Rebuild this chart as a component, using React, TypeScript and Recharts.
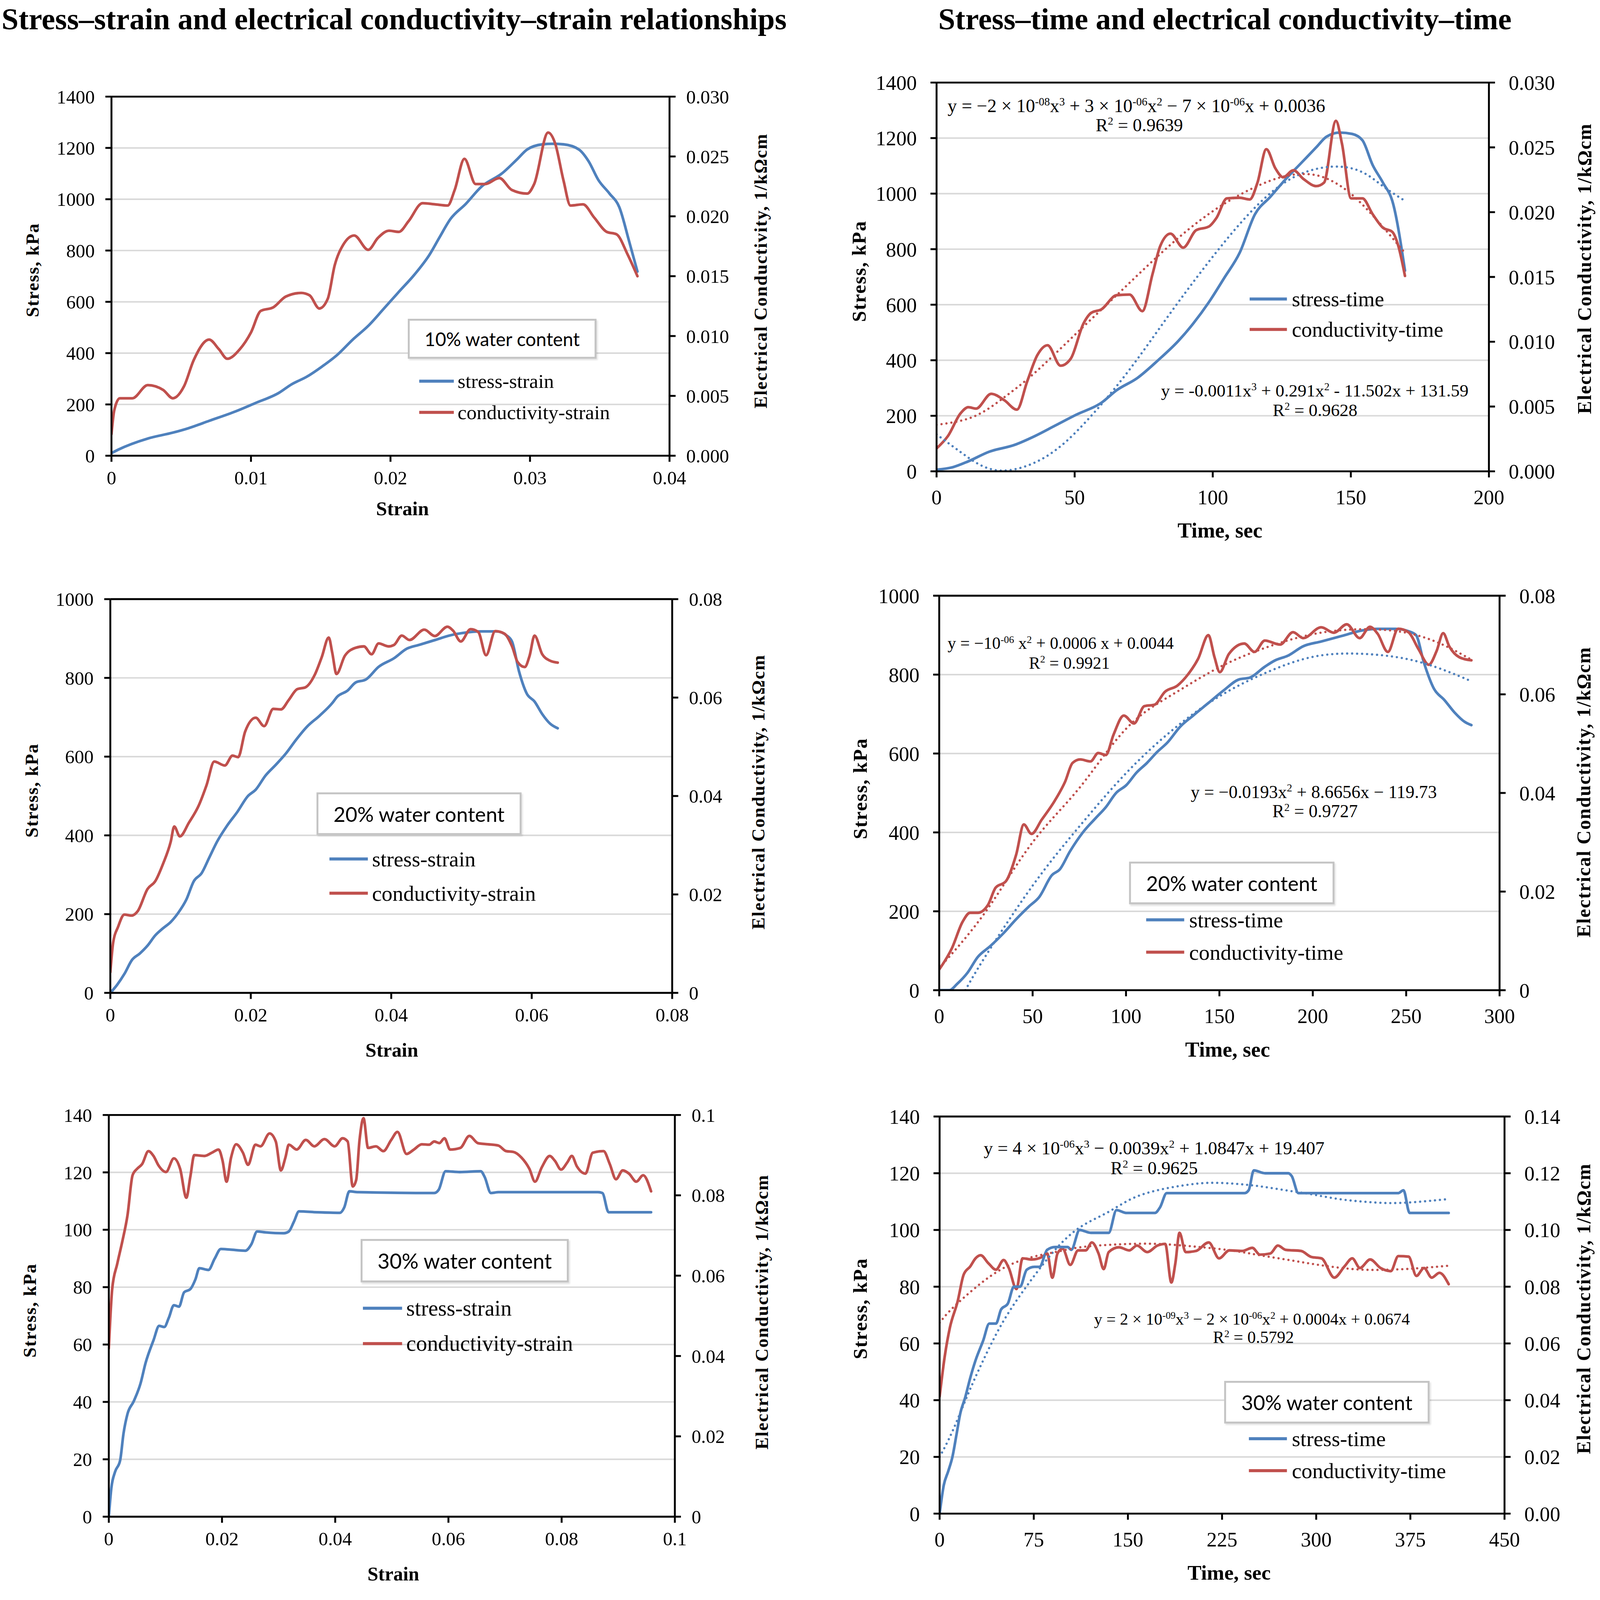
import React from 'react';
import { LineChart, Line, XAxis, YAxis, CartesianGrid, ReferenceLine } from 'recharts';

const BLUE = '#4f81bd';
const RED = '#c0504d';

// ---------- Chart 1: 10% water content, vs strain ----------
const c1StressX = [0, 0.0005, 0.0026, 0.0044, 0.0055, 0.007, 0.0089, 0.0103, 0.012, 0.0129, 0.014, 0.0151, 0.0162, 0.0173, 0.0184, 0.0195, 0.0206, 0.0217, 0.0228, 0.0235, 0.0243, 0.0254, 0.0265, 0.028, 0.0291, 0.0298, 0.0309, 0.0316, 0.0324, 0.0335, 0.0342, 0.0349, 0.0357, 0.0364, 0.0371, 0.0377];
const c1StressY = [10, 24, 67, 90, 107, 136, 173, 205, 245, 278, 308, 348, 394, 453, 506, 572, 639, 705, 784, 850, 923, 982, 1048, 1101, 1157, 1194, 1214, 1216, 1214, 1194, 1148, 1075, 1022, 969, 837, 718];
const c1CondX = [0, 0.0002, 0.0006, 0.0015, 0.0026, 0.0037, 0.0044, 0.0052, 0.0059, 0.007, 0.0077, 0.0083, 0.0092, 0.01, 0.0107, 0.0116, 0.0125, 0.0136, 0.0142, 0.0149, 0.0155, 0.016, 0.0166, 0.0174, 0.0184, 0.0191, 0.0199, 0.0206, 0.0213, 0.0223, 0.0232, 0.0241, 0.0246, 0.0253, 0.0261, 0.0268, 0.0278, 0.0287, 0.0298, 0.0303, 0.0313, 0.0318, 0.0324, 0.0329, 0.0338, 0.0346, 0.0355, 0.0362, 0.037, 0.0377];
const c1CondY = [0.0018, 0.0038, 0.0048, 0.0048, 0.0059, 0.0055, 0.0048, 0.0058, 0.008, 0.0097, 0.0089, 0.0081, 0.0089, 0.0103, 0.0121, 0.0124, 0.0133, 0.0136, 0.0134, 0.0123, 0.0131, 0.0159, 0.0176, 0.0184, 0.0172, 0.0182, 0.0188, 0.0187, 0.0196, 0.0211, 0.021, 0.0209, 0.0222, 0.0248, 0.0227, 0.0227, 0.0232, 0.0222, 0.0219, 0.0227, 0.027, 0.0261, 0.023, 0.0209, 0.021, 0.0199, 0.0187, 0.0185, 0.0168, 0.015];

// ---------- Chart 2: 10% water content, vs time ----------
const c2StressX = [0, 5.9, 11.5, 18.9, 28.2, 35.6, 43, 50.4, 59.7, 65.2, 72.7, 80.1, 87.5, 93, 98.6, 104.2, 109.7, 115.3, 120.9, 126.4, 132, 137.5, 141.2, 145.9, 150.5, 154.2, 157.9, 161.6, 165.3, 169.6];
const c2StressY = [6, 15, 36, 70, 95, 127, 165, 203, 247, 292, 336, 399, 469, 533, 609, 697, 786, 926, 989, 1052, 1110, 1167, 1205, 1220, 1215, 1192, 1103, 1040, 964, 723];
const c2CondX = [0, 4.1, 8.7, 11.5, 14.3, 19.8, 24.5, 29.1, 32.8, 36.5, 40.2, 44.9, 48.6, 53.2, 56, 59.7, 65.2, 69.9, 74.5, 78.2, 81, 84.7, 89.3, 94, 98.6, 101.4, 105.1, 109.7, 113.4, 116.2, 119.4, 122.7, 125.5, 129.2, 132.9, 137.5, 140.3, 144.6, 146.8, 150.1, 154.2, 157.9, 161.6, 165, 167.2, 169.6];
const c2CondY = [0.00177, 0.00272, 0.00448, 0.00495, 0.00484, 0.00598, 0.00549, 0.00476, 0.00693, 0.00897, 0.00973, 0.00815, 0.0087, 0.01141, 0.01223, 0.0125, 0.01359, 0.01364, 0.01236, 0.01522, 0.01739, 0.01834, 0.01726, 0.01861, 0.01889, 0.01957, 0.02106, 0.02111, 0.02098, 0.02228, 0.02486, 0.02337, 0.02269, 0.02323, 0.02255, 0.02201, 0.02228, 0.02704, 0.02527, 0.02106, 0.02106, 0.01984, 0.0188, 0.01848, 0.01739, 0.01508];
const c2StressTrendX = [0, 10, 22.6, 39.3, 54, 69, 83.8, 98.6, 113, 128, 143, 154, 161.6, 169.6];
const c2StressTrendY = [133, 60, 3, 51, 178, 355, 558, 755, 926, 1052, 1097, 1078, 1027, 974];
const c2CondTrendX = [0, 13.3, 24.5, 35.6, 50.4, 65.2, 80, 95, 109.7, 124.6, 135.7, 143, 150.5, 159.8, 169.6];
const c2CondTrendY = [0.00359, 0.00421, 0.00571, 0.00761, 0.0106, 0.01359, 0.01658, 0.0193, 0.02133, 0.02269, 0.02291, 0.02242, 0.02133, 0.0193, 0.01685];

// ---------- Chart 3: 20% water content, vs strain ----------
const c3StressX = [0, 0.00095, 0.002, 0.0031, 0.0042, 0.0053, 0.0064, 0.0075, 0.0086, 0.0097, 0.0108, 0.0119, 0.013, 0.0141, 0.0152, 0.0166, 0.0181, 0.0196, 0.0207, 0.0221, 0.0236, 0.025, 0.0265, 0.028, 0.0298, 0.0316, 0.0323, 0.0338, 0.0349, 0.0364, 0.0382, 0.0404, 0.0422, 0.044, 0.0462, 0.0484, 0.0502, 0.0528, 0.055, 0.0564, 0.0572, 0.0582, 0.0593, 0.0604, 0.0615, 0.0626, 0.0637];
const c3StressY = [0, 20, 48, 84, 100, 120, 146, 164, 180, 204, 236, 284, 304, 344, 384, 424, 460, 500, 516, 552, 580, 608, 644, 676, 704, 736, 752, 768, 788, 796, 828, 850, 874, 884, 896, 908, 914, 918, 918, 908, 892, 816, 760, 740, 708, 684, 672];
const c3CondX = [0, 0.0004, 0.0011, 0.002, 0.003, 0.0039, 0.0053, 0.0064, 0.0075, 0.0086, 0.0091, 0.0099, 0.0112, 0.0126, 0.0137, 0.0148, 0.0163, 0.0174, 0.0182, 0.0192, 0.0207, 0.0219, 0.0232, 0.0243, 0.0254, 0.0266, 0.0278, 0.0291, 0.0301, 0.0311, 0.0316, 0.0322, 0.0334, 0.0349, 0.0361, 0.0372, 0.0382, 0.0396, 0.0404, 0.0415, 0.0426, 0.0447, 0.0462, 0.048, 0.0488, 0.0499, 0.0513, 0.0524, 0.0535, 0.0548, 0.0561, 0.0572, 0.058, 0.059, 0.0597, 0.0604, 0.0615, 0.0626, 0.0637];
const c3CondY = [0.0042, 0.0102, 0.0134, 0.0159, 0.0157, 0.0166, 0.0211, 0.0227, 0.0262, 0.0307, 0.0338, 0.0318, 0.0346, 0.0381, 0.0422, 0.047, 0.0462, 0.0482, 0.0479, 0.0531, 0.0559, 0.0542, 0.0577, 0.0576, 0.0595, 0.0617, 0.0621, 0.0646, 0.0682, 0.0722, 0.0691, 0.0648, 0.0685, 0.0701, 0.0704, 0.0688, 0.071, 0.0704, 0.0707, 0.0726, 0.0717, 0.0738, 0.0725, 0.0744, 0.0736, 0.0714, 0.0739, 0.0733, 0.0686, 0.0735, 0.073, 0.0704, 0.0672, 0.0662, 0.0685, 0.0726, 0.0688, 0.0675, 0.0671];

// ---------- Chart 4: 20% water content, vs time ----------
const c4StressX = [0, 5.5, 9.6, 15.1, 20.6, 27.4, 34.3, 41.2, 48, 53.5, 60.4, 64.5, 70, 76.9, 83.7, 89.2, 94.7, 100.2, 105.7, 111.2, 116.7, 122.2, 129, 135.9, 144.1, 152.3, 160.6, 166.1, 174.3, 179.8, 186.7, 194.9, 204.5, 215.5, 226.5, 234.7, 244.3, 251.2, 255.3, 259.4, 264.9, 270.4, 275.9, 281.4, 284.9];
const c4StressY = [0, 0, 16, 44, 84, 112, 144, 180, 212, 236, 292, 306, 352, 400, 436, 464, 500, 520, 552, 576, 604, 628, 668, 696, 728, 760, 788, 792, 820, 836, 848, 872, 884, 898, 912, 916, 916, 910, 900, 832, 764, 736, 704, 680, 672];
const c4CondX = [0, 6.9, 12.4, 16.5, 20.6, 26.1, 30.2, 35.7, 41.2, 45.3, 49.4, 54.9, 61.8, 67.3, 71.4, 75.5, 81, 85.1, 89.2, 93.3, 98.8, 104.3, 109.8, 115.3, 120.8, 127.6, 133.1, 138.6, 144.1, 147.4, 150.2, 155.1, 163.3, 168.8, 174.3, 182.5, 189.4, 194.9, 204.5, 211.3, 218.2, 225.1, 230.6, 234.7, 240.2, 245.7, 251.2, 256.7, 262.1, 266.3, 269.8, 273.1, 278.6, 284.9];
const c4CondY = [0.0042, 0.0086, 0.0138, 0.0157, 0.0157, 0.0173, 0.0208, 0.0221, 0.0275, 0.0336, 0.0317, 0.0346, 0.0384, 0.0422, 0.0461, 0.0468, 0.0464, 0.0481, 0.0477, 0.0518, 0.0557, 0.0541, 0.0576, 0.0579, 0.0605, 0.0618, 0.064, 0.0672, 0.072, 0.0675, 0.0645, 0.0682, 0.0703, 0.0686, 0.0709, 0.0701, 0.0726, 0.0714, 0.0736, 0.0725, 0.0742, 0.0714, 0.0737, 0.0723, 0.0686, 0.0733, 0.0726, 0.0691, 0.066, 0.0688, 0.0724, 0.0697, 0.0675, 0.0669];
const c4StressTrendX = [14, 25, 50, 75, 100, 125, 150, 175, 200, 225, 250, 270, 285];
const c4StressTrendY = [0, 88, 265, 415, 550, 660, 745, 805, 845, 853, 840, 812, 783];
const c4CondTrendX = [0, 25, 50, 75, 100, 125, 150, 175, 200, 225, 250, 270, 285];
const c4CondTrendY = [0.0045, 0.016, 0.03, 0.041, 0.053, 0.06, 0.0655, 0.0695, 0.0722, 0.0732, 0.0725, 0.07, 0.067];

// ---------- Chart 5: 30% water content, vs strain ----------
const c5StressX = [0, 0.00045, 0.0011, 0.002, 0.0026, 0.0033, 0.0044, 0.0056, 0.0065, 0.0079, 0.0089, 0.0098, 0.0106, 0.0115, 0.0124, 0.0133, 0.0144, 0.0153, 0.016, 0.0176, 0.0187, 0.0198, 0.0214, 0.0241, 0.0252, 0.0262, 0.0277, 0.0309, 0.0318, 0.0327, 0.0336, 0.0368, 0.0408, 0.0416, 0.0425, 0.044, 0.0575, 0.0583, 0.0595, 0.062, 0.0657, 0.0664, 0.0675, 0.0688, 0.0864, 0.0872, 0.0883, 0.0896, 0.0958];
const c5StressY = [0, 10, 15.6, 19.6, 29, 35.8, 40.2, 46.4, 53.6, 61.5, 66.5, 66.1, 69.3, 73.7, 73.2, 78.2, 79.3, 82.7, 86.6, 86, 89.9, 93.3, 93.1, 92.7, 95, 99.4, 99.1, 98.8, 99.4, 102.8, 106.4, 106.1, 105.9, 107.8, 113.4, 113.1, 112.8, 114, 120.4, 120.1, 120.4, 118.4, 112.8, 113.1, 113.1, 112.8, 106.1, 106.1, 106.1];
const c5CondX = [0, 0.0006, 0.0015, 0.0024, 0.0033, 0.0042, 0.005, 0.0059, 0.007, 0.0079, 0.0088, 0.0101, 0.0115, 0.0126, 0.0137, 0.0144, 0.0151, 0.0169, 0.0182, 0.0194, 0.0201, 0.0208, 0.0216, 0.0225, 0.0237, 0.0246, 0.0259, 0.0268, 0.0284, 0.0295, 0.0304, 0.0312, 0.0318, 0.0332, 0.0348, 0.0363, 0.0381, 0.0399, 0.0413, 0.0422, 0.0431, 0.0437, 0.0443, 0.045, 0.0458, 0.0472, 0.0485, 0.0499, 0.051, 0.0526, 0.0539, 0.0553, 0.0566, 0.0575, 0.0584, 0.0593, 0.0603, 0.0621, 0.0637, 0.0652, 0.067, 0.0688, 0.0702, 0.0715, 0.0729, 0.0743, 0.0753, 0.0765, 0.0779, 0.0788, 0.0799, 0.081, 0.0818, 0.0827, 0.0842, 0.0855, 0.0874, 0.0885, 0.0896, 0.0908, 0.0919, 0.0932, 0.0944, 0.0958];
const c5CondY = [0.0419, 0.0567, 0.063, 0.0686, 0.075, 0.085, 0.0866, 0.0878, 0.091, 0.0898, 0.0874, 0.0858, 0.0892, 0.0866, 0.0794, 0.0846, 0.09, 0.0898, 0.0906, 0.0914, 0.0886, 0.0834, 0.0894, 0.0927, 0.0906, 0.0876, 0.0926, 0.0922, 0.0954, 0.0934, 0.0862, 0.0894, 0.0926, 0.0914, 0.0938, 0.0922, 0.094, 0.0922, 0.0942, 0.0934, 0.0822, 0.0838, 0.0938, 0.0992, 0.0918, 0.0922, 0.091, 0.0938, 0.0958, 0.0903, 0.0914, 0.0927, 0.0926, 0.0934, 0.093, 0.0942, 0.0914, 0.0918, 0.0948, 0.093, 0.0927, 0.0924, 0.091, 0.0908, 0.0894, 0.0866, 0.0834, 0.087, 0.0898, 0.0886, 0.0864, 0.0882, 0.0898, 0.0872, 0.0854, 0.0906, 0.091, 0.0878, 0.084, 0.0862, 0.0854, 0.0834, 0.085, 0.081];

// ---------- Chart 6: 30% water content, vs time ----------
const c6StressX = [0, 3.3, 6.9, 10.2, 13.5, 16.3, 20.4, 24.5, 28.6, 34.7, 39.6, 44.9, 49, 54.3, 59.2, 64.1, 69.4, 75.5, 79.6, 85.7, 91.9, 102, 104.9, 111.5, 120.5, 134.7, 140.9, 149, 171.5, 175.6, 180.9, 189.9, 243, 246.2, 250.3, 259.3, 277.7, 280.5, 285.8, 292, 365.4, 369.5, 374.4, 379.7, 405.5];
const c6StressY = [0, 10, 15, 20, 28, 35, 41, 48, 54, 61, 67, 67, 72, 74, 80, 80, 86, 87, 87, 93, 94, 94, 93, 100, 99, 99, 107, 106, 106, 108, 113, 113, 113, 114, 121, 120, 120, 119, 113, 113, 113, 114, 106, 106, 106];
const c6CondX = [0, 4.1, 8.2, 14.3, 19.2, 24.5, 28.6, 32.7, 38.8, 44.9, 51, 55.1, 61.2, 66.1, 73.5, 81.7, 85.7, 89.8, 93.9, 98, 104.1, 110.3, 116.4, 121.3, 126.6, 130.7, 134.7, 142.9, 151.1, 157.2, 165.4, 173.5, 179.7, 184.6, 187.8, 191.1, 196, 204.2, 214.4, 222.6, 230.8, 241, 249.1, 255.2, 263.4, 269.5, 275.6, 287.9, 296, 304.2, 314.4, 322.6, 328.7, 334.8, 343, 351.2, 359.4, 365.4, 373.6, 379.8, 385.9, 392, 398.2, 405.5];
const c6CondY = [0.0413, 0.0555, 0.0656, 0.0747, 0.0843, 0.0872, 0.09, 0.0911, 0.0883, 0.086, 0.0894, 0.0866, 0.0792, 0.09, 0.0896, 0.0905, 0.0917, 0.0832, 0.0917, 0.0934, 0.0877, 0.0928, 0.0928, 0.0956, 0.0917, 0.0862, 0.0922, 0.0939, 0.0928, 0.0945, 0.0922, 0.0945, 0.0951, 0.0815, 0.0883, 0.099, 0.0922, 0.0926, 0.0956, 0.09, 0.0928, 0.0926, 0.0937, 0.0913, 0.0917, 0.0945, 0.093, 0.0926, 0.0905, 0.09, 0.0832, 0.0872, 0.09, 0.0866, 0.0896, 0.0866, 0.0855, 0.0908, 0.0906, 0.0838, 0.0866, 0.0832, 0.0849, 0.0809];
const c6StressTrendX = [0, 10.2, 22.5, 34.7, 51, 71.5, 92, 112, 133, 153, 173.5, 194, 214, 235, 255, 275.6, 296, 316.5, 337, 357, 377.7, 405.5];
const c6StressTrendY = [20, 29, 42, 54, 68, 81.5, 93, 101, 106, 111, 114, 115.7, 116.6, 116.3, 115.4, 114, 112.6, 111, 110, 109.5, 109.8, 110.9];
const c6CondTrendX = [0, 10.2, 30.6, 51, 71.5, 92, 112, 133, 153, 173.5, 194, 214, 235, 255, 275.6, 296, 316.5, 337, 357, 377.7, 405.5];
const c6CondTrendY = [0.0673, 0.0724, 0.0804, 0.0866, 0.0902, 0.0922, 0.0939, 0.0947, 0.0951, 0.0951, 0.0945, 0.0937, 0.0926, 0.0911, 0.0896, 0.0881, 0.0868, 0.086, 0.086, 0.0864, 0.0874];

// ---------- Axis ticks ----------
const ticksStress1400 = [0, 200, 400, 600, 800, 1000, 1200, 1400];
const ticksStress1000 = [0, 200, 400, 600, 800, 1000];
const ticksStress140 = [0, 20, 40, 60, 80, 100, 120, 140];
const ticksCond030 = [0, 0.005, 0.01, 0.015, 0.02, 0.025, 0.03];
const ticksCond08 = [0, 0.02, 0.04, 0.06, 0.08];
const ticksCond10 = [0, 0.02, 0.04, 0.06, 0.08, 0.1];
const ticksCond14 = [0, 0.02, 0.04, 0.06, 0.08, 0.1, 0.12, 0.14];
const ticksStrain04 = [0, 0.01, 0.02, 0.03, 0.04];
const ticksStrain08 = [0, 0.02, 0.04, 0.06, 0.08];
const ticksStrain10 = [0, 0.02, 0.04, 0.06, 0.08, 0.1];
const ticksTime200 = [0, 50, 100, 150, 200];
const ticksTime300 = [0, 50, 100, 150, 200, 250, 300];
const ticksTime450 = [0, 75, 150, 225, 300, 375, 450];

const legendStrain = ['stress-strain', 'conductivity-strain'];
const legendTime = ['stress-time', 'conductivity-time'];
const waterLabels = ['10% water content', '20% water content', '30% water content'];

const zip = (xs: number[], ys: number[]) => xs.map((x, i) => ({ x, y: ys[i] }));

const SERIF = '"Liberation Serif", "Times New Roman", serif';
// the visible page area is slightly smaller than the nominal size; fit the layout into it
const FIT = 4096 / 4206;

type Ser = { data: { x: number; y: number }[]; color: string; axis: 'left' | 'right'; dotted?: boolean };
type Plot = { l: number; t: number; r: number; b: number };

function DualChart(props: {
  plot: Plot; xDomain: number[]; xTicks: number[]; lDomain: number[]; lTicks: number[];
  rDomain: number[]; rTicks: number[]; rFmt: (v: number) => string; series: Ser[]; fs: number;
  gapY: number; gapX: number;
}) {
  const { plot, xDomain, xTicks, lDomain, lTicks, rDomain, rTicks, rFmt, series, fs, gapY, gapX } = props;
  const padL = 250, padR = 250, padT = 40, padB = 140;
  const w = plot.r - plot.l + padL + padR;
  const h = plot.b - plot.t + padT + padB;
  const tickStyle = { fill: '#000', fontSize: fs, fontFamily: SERIF };
  const ax = { stroke: '#000', strokeWidth: 5 };
  return (
    <div style={{ position: 'absolute', left: plot.l - padL, top: plot.t - padT }}>
      <LineChart width={w} height={h} margin={{ top: padT, right: 0, bottom: 0, left: 0 }}>
        <CartesianGrid yAxisId="left" vertical={false} stroke="#d9d9d9" strokeWidth={4} />
        <XAxis type="number" dataKey="x" domain={xDomain} ticks={xTicks} interval={0} height={padB}
          tickFormatter={(v: number) => String(v)} tick={tickStyle} tickSize={16} tickMargin={gapX}
          axisLine={ax} tickLine={ax} allowDataOverflow />
        <YAxis yAxisId="left" orientation="left" width={padL} domain={lDomain} ticks={lTicks} interval={0}
          tickFormatter={(v: number) => String(v)} tick={tickStyle} tickSize={16} tickMargin={gapY}
          axisLine={ax} tickLine={ax} allowDataOverflow />
        <YAxis yAxisId="right" orientation="right" width={padR} domain={rDomain} ticks={rTicks} interval={0}
          tickFormatter={rFmt} tick={tickStyle} tickSize={16} tickMargin={gapY}
          axisLine={ax} tickLine={ax} allowDataOverflow />
        <ReferenceLine yAxisId="left" y={lDomain[1]} stroke="#000" strokeWidth={5} />
        {series.map((s, i) => (
          <Line key={i} data={s.data} dataKey="y" yAxisId={s.axis} type={s.dotted ? 'natural' : 'monotone'}
            stroke={s.color} strokeWidth={s.dotted ? 6 : 7} strokeDasharray={s.dotted ? '0.1 13' : undefined}
            strokeLinecap="round" dot={false} activeDot={false} isAnimationActive={false} />
        ))}
      </LineChart>
    </div>
  );
}

function Txt(props: { x: number; y: number; size: number; anchor?: 'start' | 'middle'; bold?: boolean; family?: string; rotate?: boolean; spacing?: number; children: React.ReactNode }) {
  const { x, y, size, anchor = 'middle', bold, family = SERIF, rotate, spacing = 0, children } = props;
  const tx = anchor === 'middle' ? '-50%' : '0';
  return (
    <div style={{
      position: 'absolute', left: x, top: y, whiteSpace: 'nowrap', fontSize: size, lineHeight: 1,
      fontWeight: bold ? 700 : 400, fontFamily: family, letterSpacing: spacing, color: '#000',
      transform: `translate(${tx}, -50%)${rotate ? ' rotate(-90deg)' : ''}`,
      transformOrigin: anchor === 'middle' ? 'center' : 'left center',
    }}>{children}</div>
  );
}

function LegendEntries(props: { x1: number; x2: number; tx: number; y1: number; y2: number; labels: string[]; size: number }) {
  const { x1, x2, tx, y1, y2, labels, size } = props;
  return (
    <>
      <div style={{ position: 'absolute', left: x1, top: y1 - 4, width: x2 - x1, height: 8, background: BLUE }} />
      <Txt x={tx} y={y1} size={size} anchor="start">{labels[0]}</Txt>
      <div style={{ position: 'absolute', left: x1, top: y2 - 4, width: x2 - x1, height: 8, background: RED }} />
      <Txt x={tx} y={y2} size={size} anchor="start">{labels[1]}</Txt>
    </>
  );
}

function WaterBox(props: { l: number; t: number; r: number; b: number; label: string; size: number }) {
  const { l, t, r, b, label, size } = props;
  return (
    <div style={{
      position: 'absolute', left: l, top: t, width: r - l, height: b - t, boxSizing: 'border-box',
      border: '5px solid #c4c4c4', background: '#fff', boxShadow: '3px 4px 4px rgba(0,0,0,0.12)',
      display: 'flex', alignItems: 'center', justifyContent: 'center',
      fontFamily: 'Lato, "Open Sans", sans-serif', fontSize: size, color: '#000',
    }}>{label}</div>
  );
}

const Sup = ({ children }: { children: React.ReactNode }) => (
  <sup style={{ fontSize: '0.6em', verticalAlign: '0.6em', lineHeight: 0 }}>{children}</sup>
);

const f3 = (v: number) => v.toFixed(3);
const f2 = (v: number) => v.toFixed(2);
const fPlain = (v: number) => String(v);

export default function App() {
  return (
    <div style={{ position: 'absolute', left: 0, top: 0, width: 4206, height: 4170, background: '#fff', overflow: 'hidden', transform: `scale(${FIT})`, transformOrigin: '0 0' }}>
      {/* Titles */}
      <Txt x={1036} y={50} size={80} bold>Stress–strain and electrical conductivity–strain relationships</Txt>
      <Txt x={3220} y={50} size={80} bold>Stress–time and electrical conductivity–time</Txt>

      {/* Chart 1 */}
      <DualChart plot={{ l: 293, t: 254, r: 1760, b: 1198 }} xDomain={[0, 0.04]} xTicks={ticksStrain04}
        lDomain={[0, 1400]} lTicks={ticksStress1400} rDomain={[0, 0.03]} rTicks={ticksCond030} rFmt={f3} fs={50}
        gapY={28} gapX={24}
        series={[
          { data: zip(c1StressX, c1StressY), color: BLUE, axis: 'left' },
          { data: zip(c1CondX, c1CondY), color: RED, axis: 'right' },
        ]} />
      <Txt x={86} y={710} size={48} bold rotate spacing={2}>Stress, kPa</Txt>
      <Txt x={2000} y={712} size={48} bold rotate spacing={2}>Electrical Conductivity, 1/kΩcm</Txt>
      <Txt x={1058} y={1337} size={52} bold>Strain</Txt>
      <WaterBox l={1072} t={838} r={1568} b={943} label={waterLabels[0]} size={49} />
      <LegendEntries x1={1102} x2={1193} tx={1203} y1={1002} y2={1084} labels={legendStrain} size={53} />

      {/* Chart 2 */}
      <DualChart plot={{ l: 2462, t: 217, r: 3914, b: 1239 }} xDomain={[0, 200]} xTicks={ticksTime200}
        lDomain={[0, 1400]} lTicks={ticksStress1400} rDomain={[0, 0.03]} rTicks={ticksCond030} rFmt={f3} fs={54}
        gapY={36} gapX={32}
        series={[
          { data: zip(c2StressX, c2StressY), color: BLUE, axis: 'left' },
          { data: zip(c2CondX, c2CondY), color: RED, axis: 'right' },
          { data: zip(c2StressTrendX, c2StressTrendY), color: BLUE, axis: 'left', dotted: true },
          { data: zip(c2CondTrendX, c2CondTrendY), color: RED, axis: 'right', dotted: true },
        ]} />
      <Txt x={2259} y={713} size={52} bold rotate spacing={2}>Stress, kPa</Txt>
      <Txt x={4166} y={706} size={51} bold rotate spacing={2}>Electrical Conductivity, 1/kΩcm</Txt>
      <Txt x={3207} y={1394} size={56} bold>Time, sec</Txt>
      <Txt x={2491} y={278} size={49} anchor="start">y = −2 × 10<Sup>-08</Sup>x<Sup>3</Sup> + 3 × 10<Sup>-06</Sup>x<Sup>2</Sup> − 7 × 10<Sup>-06</Sup>x + 0.0036</Txt>
      <Txt x={2995} y={329} size={48}>R<Sup>2</Sup> = 0.9639</Txt>
      <Txt x={3052} y={1028} size={46.5} anchor="start">y = -0.0011x<Sup>3</Sup> + 0.291x<Sup>2</Sup> - 11.502x + 131.59</Txt>
      <Txt x={3457} y={1079} size={46.5}>R<Sup>2</Sup> = 0.9628</Txt>
      <LegendEntries x1={3285} x2={3383} tx={3396} y1={786} y2={866} labels={legendTime} size={56} />

      {/* Chart 3 */}
      <DualChart plot={{ l: 290, t: 1575, r: 1767, b: 2610 }} xDomain={[0, 0.08]} xTicks={ticksStrain08}
        lDomain={[0, 1000]} lTicks={ticksStress1000} rDomain={[0, 0.08]} rTicks={ticksCond08} rFmt={fPlain} fs={50}
        gapY={28} gapX={24}
        series={[
          { data: zip(c3StressX, c3StressY), color: BLUE, axis: 'left' },
          { data: zip(c3CondX, c3CondY), color: RED, axis: 'right' },
        ]} />
      <Txt x={84} y={2078} size={48} bold rotate spacing={2}>Stress, kPa</Txt>
      <Txt x={1994} y={2082} size={48} bold rotate spacing={2}>Electrical Conductivity, 1/kΩcm</Txt>
      <Txt x={1030} y={2761} size={52} bold>Strain</Txt>
      <WaterBox l={832} t={2083} r={1371} b={2195} label={waterLabels[1]} size={54} />
      <LegendEntries x1={866} x2={967} tx={978} y1={2258} y2={2348} labels={legendStrain} size={57} />

      {/* Chart 4 */}
      <DualChart plot={{ l: 2469, t: 1566, r: 3942, b: 2603 }} xDomain={[0, 300]} xTicks={ticksTime300}
        lDomain={[0, 1000]} lTicks={ticksStress1000} rDomain={[0, 0.08]} rTicks={ticksCond08} rFmt={fPlain} fs={54}
        gapY={36} gapX={32}
        series={[
          { data: zip(c4StressX, c4StressY), color: BLUE, axis: 'left' },
          { data: zip(c4CondX, c4CondY), color: RED, axis: 'right' },
          { data: zip(c4StressTrendX, c4StressTrendY), color: BLUE, axis: 'left', dotted: true },
          { data: zip(c4CondTrendX, c4CondTrendY), color: RED, axis: 'right', dotted: true },
        ]} />
      <Txt x={2262} y={2073} size={52} bold rotate spacing={2}>Stress, kPa</Txt>
      <Txt x={4164} y={2082} size={51} bold rotate spacing={2}>Electrical Conductivity, 1/kΩcm</Txt>
      <Txt x={3227} y={2759} size={56} bold>Time, sec</Txt>
      <Txt x={2491} y={1691} size={44.5} anchor="start">y = −10<Sup>-06</Sup> x<Sup>2</Sup> + 0.0006 x + 0.0044</Txt>
      <Txt x={2811} y={1743} size={44.5}>R<Sup>2</Sup> = 0.9921</Txt>
      <Txt x={3130} y={2082} size={47} anchor="start">y = −0.0193x<Sup>2</Sup> + 8.6656x − 119.73</Txt>
      <Txt x={3457} y={2133} size={47}>R<Sup>2</Sup> = 0.9727</Txt>
      <WaterBox l={2968} t={2265} r={3508} b={2377} label={waterLabels[1]} size={54} />
      <LegendEntries x1={3013} x2={3113} tx={3126} y1={2418} y2={2503} labels={legendTime} size={57} />

      {/* Chart 5 */}
      <DualChart plot={{ l: 286, t: 2931, r: 1774, b: 3987 }} xDomain={[0, 0.1]} xTicks={ticksStrain10}
        lDomain={[0, 140]} lTicks={ticksStress140} rDomain={[0, 0.1]} rTicks={ticksCond10} rFmt={fPlain} fs={50}
        gapY={28} gapX={24}
        series={[
          { data: zip(c5StressX, c5StressY), color: BLUE, axis: 'left' },
          { data: zip(c5CondX, c5CondY), color: RED, axis: 'right' },
        ]} />
      <Txt x={78} y={3445} size={48} bold rotate spacing={2}>Stress, kPa</Txt>
      <Txt x={2003} y={3449} size={48} bold rotate spacing={2}>Electrical Conductivity, 1/kΩcm</Txt>
      <Txt x={1034} y={4138} size={51} bold>Strain</Txt>
      <WaterBox l={948} t={3257} r={1495} b={3371} label={waterLabels[2]} size={55} />
      <LegendEntries x1={954} x2={1057} tx={1068} y1={3439} y2={3532} labels={legendStrain} size={58} />

      {/* Chart 6 */}
      <DualChart plot={{ l: 2470, t: 2935, r: 3955, b: 3979 }} xDomain={[0, 450]} xTicks={ticksTime450}
        lDomain={[0, 140]} lTicks={ticksStress140} rDomain={[0, 0.14]} rTicks={ticksCond14} rFmt={f2} fs={54}
        gapY={36} gapX={32}
        series={[
          { data: zip(c6CondX, c6CondY), color: RED, axis: 'right' },
          { data: zip(c6StressX, c6StressY), color: BLUE, axis: 'left' },
          { data: zip(c6StressTrendX, c6StressTrendY), color: BLUE, axis: 'left', dotted: true },
          { data: zip(c6CondTrendX, c6CondTrendY), color: RED, axis: 'right', dotted: true },
        ]} />
      <Txt x={2262} y={3440} size={52} bold rotate spacing={2}>Stress, kPa</Txt>
      <Txt x={4164} y={3440} size={51} bold rotate spacing={2}>Electrical Conductivity, 1/kΩcm</Txt>
      <Txt x={3231} y={4134} size={55} bold>Time, sec</Txt>
      <Txt x={2586} y={3019} size={48.5} anchor="start">y = 4 × 10<Sup>-06</Sup>x<Sup>3</Sup> − 0.0039x<Sup>2</Sup> + 1.0847x + 19.407</Txt>
      <Txt x={3034} y={3071} size={48}>R<Sup>2</Sup> = 0.9625</Txt>
      <Txt x={2876} y={3468} size={43.5} anchor="start">y = 2 × 10<Sup>-09</Sup>x<Sup>3</Sup> − 2 × 10<Sup>-06</Sup>x<Sup>2</Sup> + 0.0004x + 0.0674</Txt>
      <Txt x={3295} y={3516} size={44.5}>R<Sup>2</Sup> = 0.5792</Txt>
      <WaterBox l={3218} t={3630} r={3758} b={3742} label={waterLabels[2]} size={54} />
      <LegendEntries x1={3283} x2={3383} tx={3396} y1={3782} y2={3866} labels={legendTime} size={57} />
    </div>
  );
}
